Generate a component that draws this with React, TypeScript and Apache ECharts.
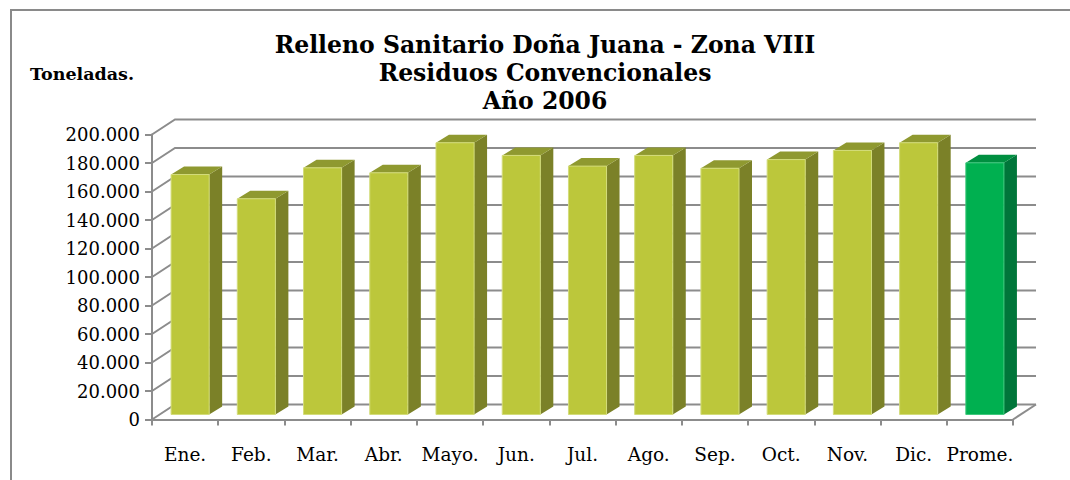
import React, { useEffect, useRef } from "react";
import * as echarts from "echarts";

const categories = ["Ene.", "Feb.", "Mar.", "Abr.", "Mayo.", "Jun.", "Jul.", "Ago.", "Sep.", "Oct.", "Nov.", "Dic.", "Prome."];
const toneladas = [168400, 151400, 173100, 169600, 190700, 181800, 174300, 181800, 172800, 178900, 185300, 190700, 176600];
const yTicks = [0, 20000, 40000, 60000, 80000, 100000, 120000, 140000, 160000, 180000, 200000];
const titleLines = ["Relleno Sanitario Doña Juana - Zona VIII", "Residuos Convencionales", "Año 2006"];
const yAxisName = "Toneladas.";
const highlightCategory = "Prome.";

const FONT = "'DejaVu Serif', 'Liberation Serif', serif";
const WALL_DX = 23;
const WALL_DY = -15;
const BAR_DX = 5;
const BAR_DY = -5;
const SIDE_DX = 13;
const SIDE_DY = -8;
const GRID_COLOR = "#8c8c8c";

const fmt = (v: number) => String(v).replace(/\B(?=(\d{3})+(?!\d))/g, ".");

export default function App() {
  const ref = useRef<HTMLDivElement>(null);
  useEffect(() => {
    document.body.style.margin = "0";
    const chart = echarts.init(ref.current!, null, { renderer: "svg" });
    const option: any = {
      animation: false,
      backgroundColor: "#ffffff",
      grid: { left: 152, right: 57, top: 134.5, bottom: 60.5 },
      xAxis: {
        type: "category",
        data: categories,
        axisLine: { show: true, lineStyle: { color: GRID_COLOR, width: 2 } },
        axisTick: { show: true, length: 6, lineStyle: { color: GRID_COLOR, width: 2 } },
        axisLabel: { color: "#000", fontFamily: FONT, fontSize: 18.5, margin: 25, interval: 0 },
      },
      yAxis: {
        type: "value",
        min: 0,
        max: 200000,
        interval: 20000,
        axisLine: { show: true, lineStyle: { color: GRID_COLOR, width: 2 } },
        axisTick: { show: true, length: 7, lineStyle: { color: GRID_COLOR, width: 2 } },
        splitLine: { show: false },
        axisLabel: { color: "#000", fontFamily: FONT, fontSize: 18, margin: 12, formatter: (v: number) => fmt(v) },
      },
      graphic: [
        {
          type: "rect",
          shape: { x: 11, y: 10, width: 1100, height: 500 },
          style: { fill: "none", stroke: "#8a8a8a", lineWidth: 2 },
          silent: true,
        },
        ...titleLines.map((t, i) => ({
          type: "text",
          x: 545,
          y: 45 + i * 28,
          style: {
            text: t,
            fill: "#000",
            font: `bold 23.5px ${FONT}`,
            align: "center",
            verticalAlign: "middle",
          },
        })),
        {
          type: "text",
          x: 30,
          y: 74,
          style: {
            text: yAxisName,
            fill: "#000",
            font: `bold 17.5px ${FONT}`,
            align: "left",
            verticalAlign: "middle",
          },
        },
      ],
      series: [
        {
          type: "custom",
          data: yTicks.map((v) => [0, v]),
          silent: true,
          renderItem: (params: any, api: any) => {
            const cs = params.coordSys;
            const v = api.value(1);
            const y = api.coord([0, v])[1];
            const children: any[] = [
              {
                type: "polyline",
                shape: {
                  points: [
                    [cs.x, y],
                    [cs.x + WALL_DX, y + WALL_DY],
                    [cs.x + cs.width + WALL_DX, y + WALL_DY],
                  ],
                },
                style: { stroke: GRID_COLOR, lineWidth: 2, fill: null },
              },
            ];
            if (v === 0) {
              children.push({
                type: "line",
                shape: { x1: cs.x + cs.width, y1: y, x2: cs.x + cs.width + WALL_DX, y2: y + WALL_DY },
                style: { stroke: GRID_COLOR, lineWidth: 2 },
              });
            }
            return { type: "group", children };
          },
        },
        {
          type: "custom",
          data: toneladas.map((v, i) => [i, v]),
          renderItem: (params: any, api: any) => {
            const i = api.value(0);
            const v = api.value(1);
            const base = api.coord([i, 0]);
            const top = api.coord([i, v]);
            const band = api.size([1, 0])[0];
            const w = band * 0.575;
            const x0 = base[0] + BAR_DX - w / 2;
            const x1 = x0 + w;
            const yb = base[1] + BAR_DY;
            const yt = top[1] + BAR_DY;
            const hl = categories[i] === highlightCategory;
            const front = hl ? "#00b050" : "#bcc73b";
            const side = hl ? "#00763a" : "#7b8128";
            const topC = hl ? "#008f40" : "#8f9930";
            const edge = hl ? "#3fc87d" : "#d3dc7a";
            return {
              type: "group",
              children: [
                {
                  type: "polygon",
                  shape: { points: [[x1, yt], [x1 + SIDE_DX, yt + SIDE_DY], [x1 + SIDE_DX, yb + SIDE_DY], [x1, yb]] },
                  style: { fill: side },
                },
                {
                  type: "polygon",
                  shape: { points: [[x0, yt], [x0 + SIDE_DX, yt + SIDE_DY], [x1 + SIDE_DX, yt + SIDE_DY], [x1, yt]] },
                  style: { fill: topC },
                },
                {
                  type: "rect",
                  shape: { x: x0, y: yt, width: w, height: yb - yt },
                  style: { fill: front, stroke: edge, lineWidth: 1 },
                },
              ],
            };
          },
        },
      ],
    };
    chart.setOption(option);
    return () => chart.dispose();
  }, []);
  return <div ref={ref} style={{ width: 1070, height: 480 }} />;
}
